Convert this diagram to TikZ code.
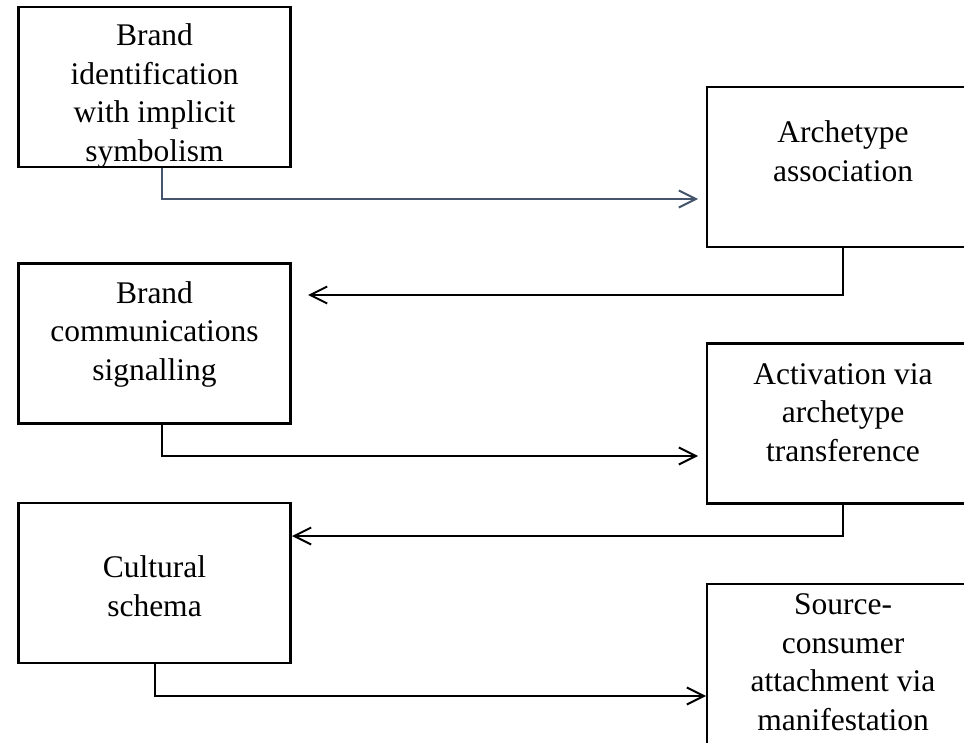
\documentclass[tikz,border=0pt]{standalone}
\usepackage{fontspec}
\setmainfont{Liberation Serif}
\usepackage{xcolor}
\usetikzlibrary{arrows.meta, positioning, calc}
\definecolor{slate}{HTML}{44546A}
\begin{document}
\begin{tikzpicture}[x=1pt, y=-1pt,
    box/.style={rectangle, draw, line width=2.3pt, minimum width=272pt, minimum height=160pt, inner sep=0pt},
    txt/.style={anchor=north, align=center, inner sep=0pt, font=\fontsize{31.5}{38.5}\selectfont},
    flow/.style={line width=2pt, -{Straight Barb[length=17pt, width=17pt, line width=2pt]}}]
  \clip (0,0) rectangle (964,743);
  % left column
  \node[box] (ident) at (154.5,87) {};
  \node[box] (comm) at (154.5,343.5) {};
  \node[box] (schema) at (154.5,583) {};
  % right column
  \node[box] (assoc) at (843,167) {};
  \node[box] (activ) at (843,423.5) {};
  \node[box] (attach) at (843,664) {};
  \node[txt] at ([yshift=-18pt]ident.north) {Brand\\identification\\with implicit\\symbolism};
  \node[txt] at ([yshift=-19pt]comm.north) {Brand\\communications\\signalling};
  \node[txt] at ([yshift=-54pt]schema.north) {Cultural\\schema};
  \node[txt] at ([yshift=-35pt]assoc.north) {Archetype\\association};
  \node[txt] at ([yshift=-21pt]activ.north) {Activation via\\archetype\\transference};
  \node[txt] at ([yshift=-11pt]attach.north) {Source-\\consumer\\attachment via\\manifestation};
  % arrow ends
  \coordinate (e1) at (698,199);
  \coordinate (e2) at (308,295);
  \coordinate (e3) at (698,456);
  \coordinate (e4) at (292,536);
  \coordinate (e5) at (706,696);
  \draw[flow, slate] ([xshift=7.5pt]ident.south) |- (e1);
  \draw[flow] ([xshift=0pt]assoc.south) |- (e2);
  \draw[flow] ([xshift=7.5pt]comm.south) |- (e3);
  \draw[flow] ([xshift=0pt]activ.south) |- (e4);
  \draw[flow] ([xshift=0pt]schema.south) |- (e5);
\end{tikzpicture}
\end{document}
